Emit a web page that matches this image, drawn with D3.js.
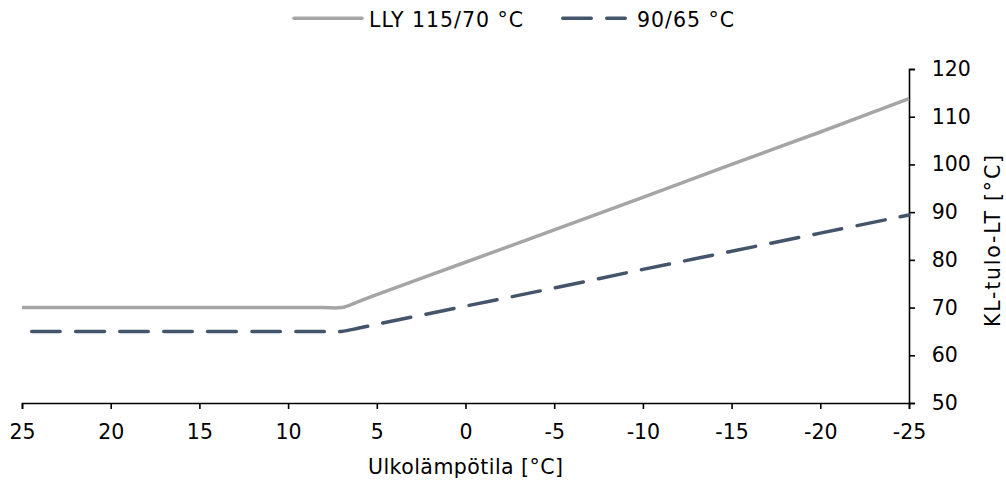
<!DOCTYPE html>
<html><head><meta charset="utf-8">
<script src="https://cdn.jsdelivr.net/npm/d3@7"></script>
<style>body{margin:0;background:#fff}svg text{font-family:"DejaVu Sans",Verdana,sans-serif;fill:#000}</style>
</head><body><svg id="c" width="1006" height="480"></svg>
<script>
const seriesNames = ["LLY 115/70 °C", "90/65 °C"];
const temps = [25, 20, 15, 10, 8, 7, 6, 5, 0, -5, -10, -15, -20, -25];
const lly = [70, 70, 70, 70, 70, 70, 71.3, 72.7, 79.5, 86.3, 93.1, 100, 106.8, 113.8];
const s9065 = [65, 65, 65, 65, 65, 65, 65.7, 66.5, 70.3, 74.1, 78, 81.8, 85.6, 89.4];
const xTicks = [25, 20, 15, 10, 5, 0, -5, -10, -15, -20, -25];
const yTicks = [50, 60, 70, 80, 90, 100, 110, 120];
const colors = ["#a5a5a5", "#44546a"];

const svg = d3.select("#c");
const x = d3.scaleLinear().domain([25, -25]).range([22, 909]);
const y = d3.scaleLinear().domain([50, 120]).range([403, 69]);

const fs = "20.5px";
const xa = svg.append("g").attr("transform", "translate(0,403)")
  .call(d3.axisBottom(x).tickValues(xTicks).tickSize(6).tickPadding(15.4).tickFormat(d3.format("d")));
const ya = svg.append("g").attr("transform", "translate(909,0)")
  .call(d3.axisRight(y).tickValues(yTicks).tickSize(6).tickPadding(16.7));
[xa, ya].forEach(a => {
  a.selectAll("path").attr("stroke", "#000").attr("stroke-width", 1.6);
  a.selectAll("line").attr("stroke", "#000").attr("stroke-width", 1.6);
  a.selectAll("text").style("font-size", fs).style("font-family", "DejaVu Sans");
});
xa.selectAll("text").text(d => String(d));

const line = d3.line().curve(d3.curveCatmullRom.alpha(0.5));
svg.append("path").attr("d", line(temps.map((t, i) => [x(t), y(lly[i])])))
  .attr("fill", "none").attr("stroke", colors[0]).attr("stroke-width", 3.5);
svg.append("path").attr("d", line(temps.map((t, i) => [x(t), y(s9065[i])])))
  .attr("fill", "none").attr("stroke", colors[1]).attr("stroke-width", 3.5)
  .attr("stroke-dasharray", "28.5,15.5").attr("stroke-dashoffset", 34.25).attr("stroke-linecap", "round");

svg.append("text").attr("x", 465.5).attr("y", 474).attr("text-anchor", "middle")
  .attr("textLength", 195).attr("lengthAdjust", "spacing")
  .style("font-size", fs).text("Ulkolämpötila [°C]");
svg.append("text").attr("transform", "translate(1000,241) rotate(-90)").attr("text-anchor", "middle")
  .attr("textLength", 172).attr("lengthAdjust", "spacing")
  .style("font-size", "20.5px").text("KL-tulo-LT [°C]");

// legend
const lg = svg.append("g");
lg.append("line").attr("x1", 294).attr("x2", 362).attr("y1", 18.3).attr("y2", 18.3)
  .attr("stroke", colors[0]).attr("stroke-width", 3.5).attr("stroke-linecap", "round");
lg.append("text").attr("x", 369).attr("y", 27).attr("textLength", 154).attr("lengthAdjust", "spacing")
  .style("font-size", fs).text(seriesNames[0]);
lg.append("line").attr("x1", 562.75).attr("x2", 625.25).attr("y1", 18.3).attr("y2", 18.3)
  .attr("stroke", colors[1]).attr("stroke-width", 3.5).attr("stroke-dasharray", "28.5,15.5").attr("stroke-linecap", "round");
lg.append("text").attr("x", 637).attr("y", 27).attr("textLength", 97).attr("lengthAdjust", "spacing")
  .style("font-size", fs).text(seriesNames[1]);
</script></body></html>
